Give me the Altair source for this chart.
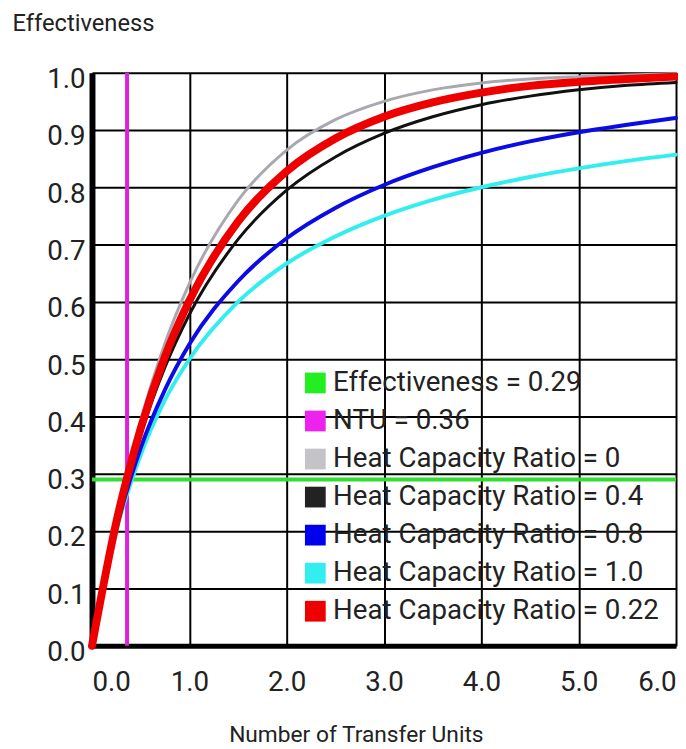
import altair as alt
import pandas as pd

# Number of Transfer Units (x) sample points
ntu = [0, 0.25, 0.5, 0.75, 1.0, 1.5, 2.0, 2.5, 3.0, 3.5, 4.0, 4.5, 5.0, 5.5, 6.0]
# Effectiveness
eff_c0 = [0, 0.221, 0.393, 0.528, 0.632, 0.777, 0.865, 0.918, 0.950, 0.970, 0.982, 0.989, 0.993, 0.996, 0.998]
eff_c04 = [0, 0.212, 0.368, 0.486, 0.578, 0.709, 0.795, 0.853, 0.894, 0.923, 0.944, 0.959, 0.970, 0.978, 0.983]
eff_c08 = [0, 0.204, 0.345, 0.447, 0.526, 0.636, 0.711, 0.764, 0.804, 0.835, 0.860, 0.880, 0.896, 0.909, 0.921]
eff_c10 = [0, 0.200, 0.333, 0.429, 0.500, 0.600, 0.667, 0.714, 0.750, 0.778, 0.800, 0.818, 0.833, 0.846, 0.857]
eff_c022 = [0, 0.216, 0.379, 0.505, 0.602, 0.740, 0.828, 0.885, 0.923, 0.948, 0.965, 0.977, 0.984, 0.989, 0.993]

effectiveness_value = 0.29
ntu_value = 0.36

series_labels = [
    "Effectiveness = 0.29",
    "NTU = 0.36",
    "Heat Capacity Ratio = 0",
    "Heat Capacity Ratio = 0.4",
    "Heat Capacity Ratio = 0.8",
    "Heat Capacity Ratio = 1.0",
    "Heat Capacity Ratio = 0.22",
]
line_colors = ["#33dd33", "#dd22dd", "#a8a8b0", "#111111", "#0b0be6", "#33eeee", "#ee0000"]
legend_colors = ["#22ee22", "#ee22ee", "#c4c4c8", "#222222", "#0000ee", "#33eeee", "#ee0000"]

x_ticks = [0, 1, 2, 3, 4, 5, 6]
y_ticks = [0, 0.1, 0.2, 0.3, 0.4, 0.5, 0.6, 0.7, 0.8, 0.9, 1.0]

FONT = "Roboto"

x_axis = alt.Axis(
    values=x_ticks, format=".1f", labelFlush=True, grid=True,
    gridColor="#000000", gridWidth=2, gridOpacity=1,
    domainColor="#000000", domainWidth=5, ticks=False, tickSize=0,
    labelPadding=23, labelFontSize=28, labelFont=FONT, labelColor="#222222",
    title="Number of Transfer Units", titleFont=FONT, titleFontSize=23,
    titleFontWeight="normal", titleColor="#222222",
    titleX=267, titleY=90, titleBaseline="middle", titleAlign="center",
)
y_axis = alt.Axis(
    values=y_ticks, format=".1f", grid=True,
    gridColor="#000000", gridWidth=2, gridOpacity=1,
    domainColor="#000000", domainWidth=6, ticks=False, tickSize=0,
    labelPadding=7, labelOffset=7, labelFontSize=28, labelFont=FONT, labelColor="#222222",
    title="Effectiveness", titleFont=FONT, titleFontSize=24, titleFontWeight="normal",
    titleColor="#222222", titleAngle=0, titleAlign="left", titleBaseline="middle",
    titleX=-81, titleY=-50,
)

xs = alt.Scale(domain=[0, 6], nice=False, zero=False)
ys = alt.Scale(domain=[0, 1], nice=False)

stroke_scale = alt.Scale(domain=series_labels, range=line_colors)
fill_scale = alt.Scale(domain=series_labels, range=legend_colors)

curves = {
    "Heat Capacity Ratio = 1.0": (eff_c10, 4),
    "Heat Capacity Ratio = 0.8": (eff_c08, 4),
    "Heat Capacity Ratio = 0": (eff_c0, 3),
    "Heat Capacity Ratio = 0.4": (eff_c04, 3),
    "Heat Capacity Ratio = 0.22": (eff_c022, 8),
}

layers = []

# tiny squares (hidden under the axis corner) that carry the legend
leg_df = pd.DataFrame({"x": [0.0] * len(series_labels), "y": [0.0] * len(series_labels), "series": series_labels})
layers.append(
    alt.Chart(leg_df).mark_square(size=1, filled=True).encode(
        x=alt.X("x:Q", scale=xs, axis=x_axis),
        y=alt.Y("y:Q", scale=ys, axis=y_axis),
        fill=alt.Fill(
            "series:N", scale=fill_scale,
            legend=alt.Legend(
                title=None, orient="none", legendX=212, legendY=300,
                symbolType="square", symbolSize=441, symbolOpacity=1, symbolStrokeWidth=0,
                labelFont=FONT, labelFontSize=28, labelColor="#222222", labelOffset=4,
                rowPadding=10.5, labelLimit=500, padding=0,
            ),
        ),
    )
)

# vertical NTU rule
ntu_df = pd.DataFrame({"x": [ntu_value], "y": [0.0], "y2": [1.0], "series": ["NTU = 0.36"]})
layers.append(
    alt.Chart(ntu_df).mark_rule(strokeWidth=4).encode(
        x=alt.X("x:Q", scale=xs, axis=x_axis),
        y=alt.Y("y:Q", scale=ys, axis=y_axis),
        y2="y2:Q",
        stroke=alt.Stroke("series:N", scale=stroke_scale, legend=None),
    )
)

# horizontal effectiveness rule
eff_df = pd.DataFrame({"x": [0.0], "x2": [6.0], "y": [effectiveness_value], "series": ["Effectiveness = 0.29"]})
layers.append(
    alt.Chart(eff_df).mark_rule(strokeWidth=4).encode(
        x=alt.X("x:Q", scale=xs, axis=x_axis),
        x2="x2:Q",
        y=alt.Y("y:Q", scale=ys, axis=y_axis),
        stroke=alt.Stroke("series:N", scale=stroke_scale, legend=None),
    )
)

for name, (vals, sw) in curves.items():
    df = pd.DataFrame({"ntu": ntu, "eff": vals, "series": [name] * len(ntu)})
    layers.append(
        alt.Chart(df).mark_line(strokeWidth=sw, interpolate="monotone", strokeCap="round").encode(
            x=alt.X("ntu:Q", scale=xs, axis=x_axis),
            y=alt.Y("eff:Q", scale=ys, axis=y_axis),
            stroke=alt.Stroke("series:N", scale=stroke_scale, legend=None),
        )
    )

chart = alt.layer(*layers).properties(
    width=591, height=580,
    autosize=alt.AutoSizeParams(type="none"),
    padding={"left": 85, "top": 61, "right": 2, "bottom": 100},
    background="#ffffff",
).configure_view(stroke=None)

chart.save("out.html", embed_options={"renderer": "svg", "actions": False})
